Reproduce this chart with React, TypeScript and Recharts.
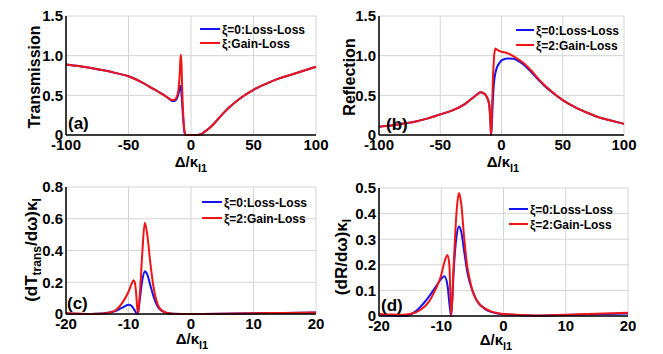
import React from 'react';
import { LineChart, Line, XAxis, YAxis, CartesianGrid, Label } from 'recharts';

// ---------- Panel (a): Transmission ----------
const xA = [-100, -90, -80, -70, -60, -50, -40, -30, -25, -20, -17, -15, -13, -11, -10, -9, -8.5, -8, -7.5, -7, -6, -5, -4, 0, 5, 8, 10, 15, 20, 25, 30, 40, 50, 60, 70, 80, 90, 100];
const transBlue = [0.89, 0.87, 0.845, 0.815, 0.78, 0.74, 0.67, 0.58, 0.535, 0.485, 0.45, 0.43, 0.43, 0.47, 0.52, 0.59, 0.62, 0.6, 0.5, 0.38, 0.15, 0.02, 0, 0, 0, 0.01, 0.03, 0.09, 0.17, 0.26, 0.34, 0.47, 0.57, 0.645, 0.71, 0.76, 0.81, 0.86];
const transRed = [0.89, 0.87, 0.845, 0.815, 0.78, 0.74, 0.67, 0.58, 0.535, 0.485, 0.455, 0.44, 0.445, 0.5, 0.58, 0.78, 0.95, 1.01, 0.85, 0.55, 0.2, 0.03, 0, 0, 0, 0.01, 0.03, 0.09, 0.17, 0.26, 0.34, 0.47, 0.57, 0.645, 0.71, 0.76, 0.81, 0.86];

// ---------- Panel (b): Reflection ----------
const xB = [-100, -90, -80, -70, -60, -50, -40, -30, -25, -20, -17.5, -15, -12, -10, -9, -8.5, -8, -7, -6, -5, -4, -2, 0, 5, 10, 15, 20, 25, 30, 35, 40, 50, 60, 70, 80, 90, 100];
const reflBlue = [0.105, 0.12, 0.145, 0.17, 0.21, 0.26, 0.31, 0.39, 0.45, 0.51, 0.54, 0.53, 0.48, 0.38, 0.15, 0, 0.1, 0.45, 0.68, 0.78, 0.84, 0.9, 0.94, 0.965, 0.96, 0.92, 0.86, 0.78, 0.7, 0.62, 0.555, 0.44, 0.35, 0.28, 0.22, 0.18, 0.14];
const reflRed = [0.105, 0.12, 0.145, 0.17, 0.21, 0.26, 0.31, 0.39, 0.45, 0.51, 0.54, 0.53, 0.48, 0.38, 0.15, 0, 0.2, 0.7, 1.0, 1.09, 1.08, 1.06, 1.05, 1.03, 0.99, 0.94, 0.88, 0.8, 0.71, 0.63, 0.56, 0.44, 0.35, 0.28, 0.22, 0.18, 0.14];

// ---------- Panel (c): dT/dω ----------
const xC = [-20, -16, -14, -13, -12, -11, -10, -9.5, -9.2, -9, -8.8, -8.5, -8.2, -7.8, -7.4, -7, -6.5, -6, -5.5, -5, -4, -3, 0, 5, 10, 15, 20];
const dTBlue = [0.003, 0, 0.003, 0.01, 0.02, 0.04, 0.058, 0.05, 0.035, 0.022, 0.008, 0, 0.09, 0.21, 0.27, 0.25, 0.18, 0.11, 0.06, 0.03, 0.008, 0.002, 0, 0.001, 0.004, 0.007, 0.01];
const dTRed = [0.005, 0, 0.003, 0.01, 0.025, 0.07, 0.14, 0.19, 0.212, 0.2, 0.14, 0, 0.12, 0.38, 0.575, 0.5, 0.32, 0.17, 0.08, 0.035, 0.008, 0.002, 0, 0.001, 0.004, 0.007, 0.01];

// ---------- Panel (d): dR/dω ----------
const xD = [-20, -18, -16, -14, -13, -12, -11, -10, -9.5, -9, -8.7, -8.4, -8, -7.5, -7.15, -6.8, -6.3, -5.8, -5.4, -5, -4.5, -4, -3, -2, -1, 0, 5, 10, 15, 20];
const dRBlue = [0.004, 0.002, 0, 0.02, 0.045, 0.075, 0.11, 0.145, 0.155, 0.12, 0.05, 0, 0.18, 0.32, 0.35, 0.33, 0.25, 0.17, 0.13, 0.1, 0.07, 0.05, 0.028, 0.016, 0.01, 0.007, 0.001, 0.004, 0.007, 0.01];
const dRRed = [0.008, 0.006, 0.005, 0.015, 0.03, 0.055, 0.1, 0.16, 0.21, 0.238, 0.2, 0, 0.2, 0.42, 0.48, 0.44, 0.3, 0.19, 0.14, 0.1, 0.07, 0.05, 0.03, 0.018, 0.012, 0.008, 0.002, 0.005, 0.009, 0.013];

const ticksWide = [-100, -50, 0, 50, 100];
const ticksNarrow = [-20, -10, 0, 10, 20];
const ticksA = [0, 0.5, 1, 1.5];
const ticksC = [0, 0.2, 0.4, 0.6, 0.8];
const ticksD = [0, 0.1, 0.2, 0.3, 0.4, 0.5];

const legendLoss = 'ξ=0:Loss-Loss';
const legendGainA = 'ξ:Gain-Loss';
const legendGain = 'ξ=2:Gain-Loss';

const FONT = '"Liberation Sans", Arial, Helvetica, sans-serif';
const BLUE = '#1414f0';
const RED = '#f01414';

type PanelProps = {
  left: number; top: number; width: number; height: number;
  margin: { top: number; right: number; bottom: number; left: number };
  xs: number[]; blue: number[]; red: number[];
  xDomain: [number, number]; xTicks: number[];
  yDomain: [number, number]; yTicks: number[];
  yLabel: React.ReactNode;
  xLabelX: number; xLabelY: number;
  tag: string; tagX: number; tagY: number;
  legX: number; legY1: number; legY2: number; legLen: number;
  leg1: string; leg2: string;
};

function Panel(p: PanelProps) {
  const data = p.xs.map((x, i) => ({ x, blue: p.blue[i], red: p.red[i] }));
  const overlay = () => (
    <g fontFamily={FONT} fontWeight="bold" fill="#000">
      {p.yLabel}
      <text x={p.xLabelX} y={p.xLabelY} textAnchor="middle" fontSize={15}>
        Δ/κ<tspan fontSize={11} dy={5}>l1</tspan>
      </text>
      <text x={p.tagX} y={p.tagY} fontSize={17}>{p.tag}</text>
      <line x1={p.legX} x2={p.legX + p.legLen} y1={p.legY1} y2={p.legY1} stroke={BLUE} strokeWidth={2} />
      <line x1={p.legX} x2={p.legX + p.legLen} y1={p.legY2} y2={p.legY2} stroke={RED} strokeWidth={2} />
      <text x={p.legX + p.legLen + 2} y={p.legY1 + 4.5} fontSize={12}>{p.leg1}</text>
      <text x={p.legX + p.legLen + 2} y={p.legY2 + 4.5} fontSize={12}>{p.leg2}</text>
    </g>
  );
  const tickStyle = { fill: '#000', fontSize: 15, fontWeight: 'bold', fontFamily: FONT };
  const axisLine = { stroke: '#000', strokeWidth: 1.5 };
  return (
    <div style={{ position: 'absolute', left: p.left, top: p.top }}>
      <LineChart width={p.width} height={p.height} data={data} margin={p.margin}>
        <CartesianGrid stroke="#d4d4d4" strokeWidth={1} />
        <XAxis dataKey="x" type="number" domain={p.xDomain} ticks={p.xTicks} interval={0}
          tickLine={false} tickSize={0} tickMargin={4} height={20} axisLine={axisLine} tick={tickStyle}>
          <Label content={overlay} />
        </XAxis>
        <XAxis xAxisId="t" dataKey="x" type="number" orientation="top" domain={p.xDomain} height={0}
          tick={false} tickLine={false} axisLine={axisLine} />
        <YAxis type="number" domain={p.yDomain} ticks={p.yTicks} interval={0} width={30}
          tickLine={false} tickSize={0} tickMargin={3} axisLine={axisLine} tick={tickStyle}
          tickFormatter={(v: number) => (v === 0 ? '0' : v.toFixed(1))} />
        <YAxis yAxisId="r" type="number" orientation="right" domain={p.yDomain} width={0}
          tick={false} tickLine={false} axisLine={axisLine} />
        <Line type="monotone" dataKey="blue" stroke={BLUE} strokeWidth={2} dot={false} isAnimationActive={false} />
        <Line type="monotone" dataKey="red" stroke={RED} strokeWidth={2} dot={false} isAnimationActive={false} />
      </LineChart>
    </div>
  );
}

export default function App() {
  return (
    <div style={{ position: 'absolute', left: 0, top: 0, width: 663, height: 354, background: '#fff', overflow: 'hidden' }}>
      <Panel left={0} top={0} width={331} height={177}
        margin={{ top: 16, right: 15, bottom: 22, left: 36 }}
        xs={xA} blue={transBlue} red={transRed}
        xDomain={[-100, 100]} xTicks={ticksWide} yDomain={[0, 1.5]} yTicks={ticksA}
        yLabel={<text x={40} y={77} transform="rotate(-90 40 77)" textAnchor="middle" fontSize={16}>Transmission</text>}
        xLabelX={191} xLabelY={167} tag="(a)" tagX={68} tagY={129}
        legX={200} legY1={29} legY2={43} legLen={20} leg1={legendLoss} leg2={legendGainA} />
      <Panel left={331} top={0} width={332} height={177}
        margin={{ top: 16, right: 39, bottom: 22, left: 18 }}
        xs={xB} blue={reflBlue} red={reflRed}
        xDomain={[-100, 100]} xTicks={ticksWide} yDomain={[0, 1.5]} yTicks={ticksA}
        yLabel={<text x={24} y={77} transform="rotate(-90 24 77)" textAnchor="middle" fontSize={16}>Reflection</text>}
        xLabelX={172} xLabelY={167} tag="(b)" tagX={55} tagY={130}
        legX={185} legY1={30} legY2={45} legLen={18} leg1={legendLoss} leg2={legendGain} />
      <Panel left={0} top={177} width={331} height={177}
        margin={{ top: 10, right: 15, bottom: 20, left: 36 }}
        xs={xC} blue={dTBlue} red={dTRed}
        xDomain={[-20, 20]} xTicks={ticksNarrow} yDomain={[0, 0.8]} yTicks={ticksC}
        yLabel={<text x={37} y={73} transform="rotate(-90 37 73)" textAnchor="middle" fontSize={17}>(dT<tspan fontSize={12} dy={4}>trans</tspan><tspan dy={-4}>/dω)κ</tspan><tspan fontSize={12} dy={4}>l</tspan></text>}
        xLabelX={192} xLabelY={167} tag="(c)" tagX={67} tagY={132}
        legX={202} legY1={25} legY2={41} legLen={20} leg1={legendLoss} leg2={legendGain} />
      <Panel left={331} top={177} width={332} height={177}
        margin={{ top: 11, right: 35, bottom: 18, left: 18 }}
        xs={xD} blue={dRBlue} red={dRRed}
        xDomain={[-20, 20]} xTicks={ticksNarrow} yDomain={[0, 0.5]} yTicks={ticksD}
        yLabel={<text x={16} y={80} transform="rotate(-90 16 80)" textAnchor="middle" fontSize={17}>(dR/dω)κ<tspan fontSize={12} dy={4}>l</tspan></text>}
        xLabelX={165} xLabelY={168} tag="(d)" tagX={50} tagY={134}
        legX={178} legY1={32} legY2={47} legLen={19} leg1={legendLoss} leg2={legendGain} />
    </div>
  );
}
